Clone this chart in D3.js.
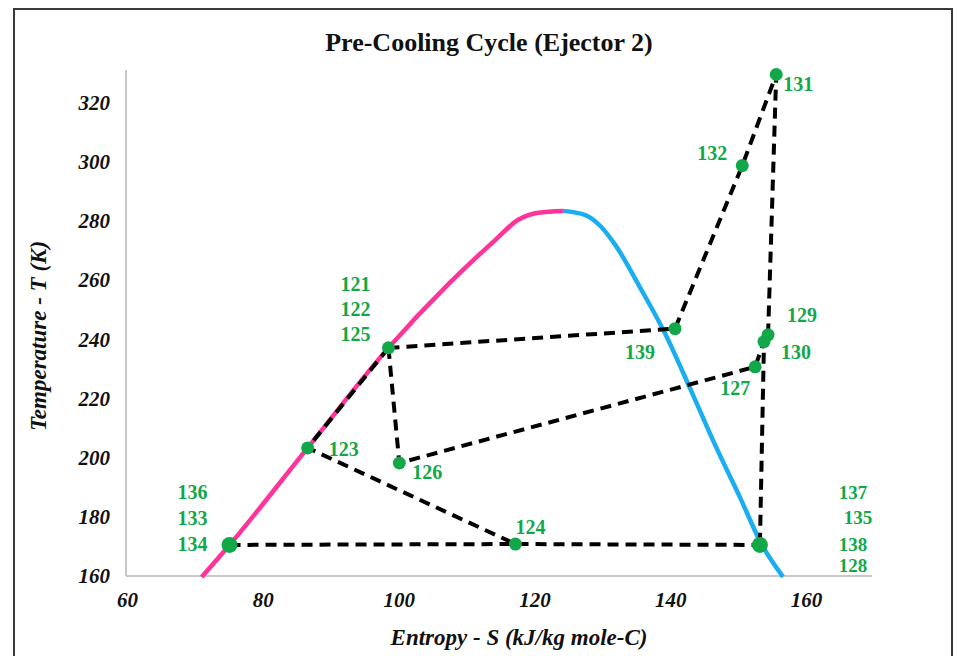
<!DOCTYPE html>
<html>
<head>
<meta charset="utf-8">
<script src="https://cdn.jsdelivr.net/npm/d3@7"></script>
<style>
  html, body { margin: 0; padding: 0; background: #fff; }
  svg { display: block; }
  svg text { font-family: "Liberation Serif", "DejaVu Serif", "Times New Roman", serif; }
</style>
</head>
<body>
<svg id="chart" width="958" height="656"></svg>
<script>
// ---------------- DATA ----------------
const xTicks = [60, 80, 100, 120, 140, 160];
const yTicks = [160, 180, 200, 220, 240, 260, 280, 300, 320];

// Saturated liquid line (pink) [S, T]
const liquidS = [71.0, 75.1, 86.6, 98.5, 107.4, 114.3, 117.6, 120.6, 124.2];
const liquidT = [159.7, 170.5, 203.3, 237.1, 258.8, 273.7, 280.4, 282.8, 283.4];

// Saturated vapour line (blue) [S, T]
const vapourS = [124.2, 127.5, 129.7, 131.9, 135.6, 139.2, 142.9, 146.6, 150.3, 153.5, 156.6];
const vapourT = [283.4, 282.0, 278.3, 271.9, 257.3, 242.1, 223.5, 204.3, 186.4, 170.5, 159.7];

// State points
const pointIds = ["125", "123", "126", "134", "124", "138", "127", "130", "129", "131", "132", "139"];
const pointS   = [98.5, 86.6, 100.1, 75.1, 117.2, 153.2, 152.5, 153.8, 154.4, 155.6, 150.6, 140.7];
const pointT   = [237.1, 203.3, 198.2, 170.5, 170.8, 170.5, 230.7, 239.2, 241.5, 329.5, 298.7, 243.6];
const bigPoints = ["134", "138"];

// Process paths (dashed) as sequences of point ids
const paths = [
  ["125", "139", "132", "131", "129"],
  ["125", "126", "127", "130", "138"],
  ["125", "123", "124"],
  ["134", "124", "138"]
];

// Labels: point id -> lines of text
const labelPoint = ["125", "123", "126", "134", "124", "138", "127", "130", "129", "131", "132", "139"];
const labelText  = [["121", "122", "125"], ["123"], ["126"], ["136", "133", "134"], ["124"],
                    ["137", "135", "138", "128"], ["127"], ["130"], ["129"], ["131"], ["132"], ["139"]];
// label placement (pixel offsets of first line centre from point, line spacing)
const labelDx = [-33, 36, 28, -37, 15, 93, -20, 32, 34, 22, -30, -35];
const labelDy = [-64, 1, 9, -53, -17, -53, 21, 10, -20, 10, -13, 23];
const labelGap = [25, 0, 0, 26, 0, [25, 27, 21], 0, 0, 0, 0, 0, 0];

// ---------------- CHART ----------------
const svg = d3.select("#chart");
const W = 958, H = 656;

svg.append("rect").attr("x", 0).attr("y", 0).attr("width", W).attr("height", H).attr("fill", "#fff");
// outer frame
svg.append("rect").attr("x", 14).attr("y", 9).attr("width", 938).attr("height", 660)
  .attr("fill", "none").attr("stroke", "#3a3a3a").attr("stroke-width", 2);

const x = d3.scaleLinear().domain([60, 170]).range([127, 874]);
const y = d3.scaleLinear().domain([160, 330]).range([576, 73]);

const serif = "'Liberation Serif', 'DejaVu Serif', serif";

// Title
svg.append("text").attr("x", 489).attr("y", 51).attr("text-anchor", "middle")
  .style("font-family", serif).attr("font-weight", "bold").attr("font-size", 26)
  .attr("fill", "#111").text("Pre-Cooling Cycle (Ejector 2)");

// Axes
const xAxis = d3.axisBottom(x).tickValues(xTicks).tickSize(0).tickPadding(18).tickFormat(d3.format("d"));
const yAxis = d3.axisLeft(y).tickValues(yTicks).tickSize(0).tickPadding(16).tickFormat(d3.format("d"));

const gx = svg.append("g").attr("transform", `translate(0,${y(160)})`).call(xAxis);
const gy = svg.append("g").attr("transform", `translate(${x(60) - 1},0)`).call(yAxis);
[gx, gy].forEach(g => {
  g.attr("font-family", null).attr("font-size", null);
  g.select(".domain").attr("stroke", "#c8c8c8").attr("stroke-width", 2);
  g.selectAll("text").style("font-family", serif).attr("font-weight", "bold")
    .attr("font-style", "italic").attr("font-size", 21).attr("fill", "#111");
});
gx.select(".domain").attr("d", `M${x(60) - 1},0H872`);
gy.select(".domain").attr("d", `M0,${y(160)}V70`);
gx.selectAll("text").attr("dy", "0.6em");

// Axis titles
svg.append("text").attr("x", 519).attr("y", 645).attr("text-anchor", "middle")
  .style("font-family", serif).attr("font-weight", "bold").attr("font-style", "italic")
  .attr("font-size", 23).attr("fill", "#111").text("Entropy - S (kJ/kg mole-C)");
svg.append("text").attr("transform", "translate(46,336) rotate(-90)").attr("text-anchor", "middle")
  .style("font-family", serif).attr("font-weight", "bold").attr("font-style", "italic")
  .attr("font-size", 23).attr("fill", "#111").text("Temperature - T (K)");

// Saturation dome
const smooth = d3.line().x(d => x(d[0])).y(d => y(d[1])).curve(d3.curveMonotoneX);
const liquid = liquidS.map((s, i) => [s, liquidT[i]]);
const vapour = vapourS.map((s, i) => [s, vapourT[i]]);
svg.append("path").datum(liquid).attr("d", smooth)
  .attr("fill", "none").attr("stroke", "#ff3399").attr("stroke-width", 4.5).attr("stroke-linecap", "butt");
svg.append("path").datum(vapour).attr("d", smooth)
  .attr("fill", "none").attr("stroke", "#1aaef0").attr("stroke-width", 4.5).attr("stroke-linecap", "butt");

// Cycle paths
const ptIndex = {};
pointIds.forEach((id, i) => ptIndex[id] = i);
const plain = d3.line().x(d => x(d[0])).y(d => y(d[1]));
paths.forEach(p => {
  const coords = p.map(id => [pointS[ptIndex[id]], pointT[ptIndex[id]]]);
  svg.append("path").datum(coords).attr("d", plain)
    .attr("fill", "none").attr("stroke", "#000").attr("stroke-width", 4)
    .attr("stroke-dasharray", "11,7").attr("stroke-linejoin", "round");
});

// Points
const green = "#12a84a";
pointIds.forEach((id, i) => {
  svg.append("circle").attr("cx", x(pointS[i])).attr("cy", y(pointT[i]))
    .attr("r", bigPoints.includes(id) ? 8 : 6.5).attr("fill", green);
});

// Labels
labelPoint.forEach((id, i) => {
  const px = x(pointS[ptIndex[id]]), py = y(pointT[ptIndex[id]]);
  let yy = py + labelDy[i];
  labelText[i].forEach((t, j) => {
    if (j > 0) {
      const g = labelGap[i];
      yy += Array.isArray(g) ? g[j - 1] : g;
    }
    svg.append("text").attr("x", px + labelDx[i] + (id === "138" && j === 1 ? 5 : 0)).attr("y", yy)
      .attr("dy", "0.35em").attr("text-anchor", "middle")
      .style("font-family", serif).attr("font-weight", "bold")
      .attr("font-size", id === "138" ? 19 : 20)
      .attr("fill", green).text(t);
  });
});
</script>
</body>
</html>
